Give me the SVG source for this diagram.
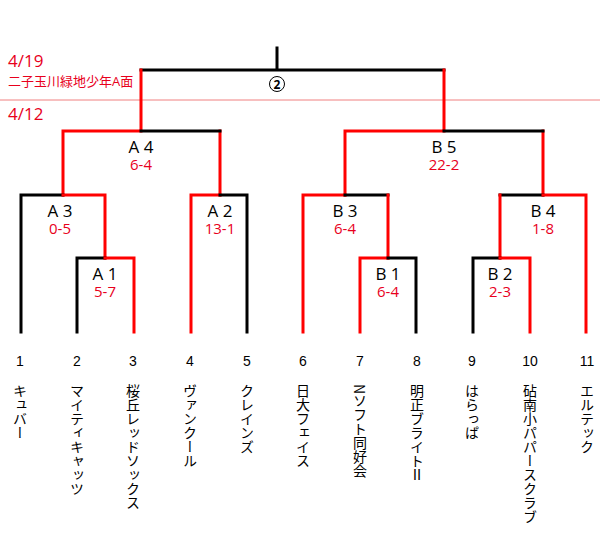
<svg xmlns="http://www.w3.org/2000/svg" width="600" height="547" viewBox="0 0 600 547">
<style>
.b{stroke:#000;stroke-width:3;fill:none;stroke-linecap:square}
.r{stroke:#f00;stroke-width:3;fill:none;stroke-linecap:square}
text{font-family:"Open Sans","Noto Sans CJK JP",sans-serif}
.lb{font-size:17px;fill:#000;text-anchor:middle}
.sc{font-size:15px;fill:#e8001c;text-anchor:middle}
.n{font-size:14px;fill:#000;text-anchor:middle;font-family:"Liberation Sans",sans-serif}
.t{font-size:14px;fill:#000;writing-mode:vertical-rl;font-family:"Noto Sans CJK JP",sans-serif}
</style>
<rect width="600" height="547" fill="#fff"/>
<line x1="0" y1="100" x2="600" y2="100" stroke="#f08080" stroke-width="1"/>
<text x="8" y="67" font-size="17" fill="#e8001c" font-family="Open Sans, sans-serif">4/19</text>
<text x="8" y="86" font-size="13" fill="#e8001c" font-family="Noto Sans CJK JP, sans-serif">二子玉川緑地少年A面</text>
<text x="8" y="120" font-size="17" fill="#e8001c" font-family="Open Sans, sans-serif">4/12</text>
<g id="connectors">
<path class="b" d="M277 48V70M141 70H444"/>
<path class="r" d="M141 70V131H63V195M220 131V195"/><path class="b" d="M141 131H220"/>
<path class="b" d="M21 332V195H63"/><path class="r" d="M63 195H105V258"/>
<path class="b" d="M77 332V258H105"/><path class="r" d="M105 258H134V332"/>
<path class="r" d="M191 332V195H220"/><path class="b" d="M220 195H247V332"/>
<path class="r" d="M444 70V131H345V195M543 131V195"/><path class="b" d="M444 131H543"/>
<path class="r" d="M303 332V195H345"/><path class="b" d="M345 195H388"/><path class="r" d="M388 195V258"/>
<path class="r" d="M360 332V258H388"/><path class="b" d="M388 258H416V332"/>
<path class="b" d="M500 195H543"/><path class="r" d="M543 195H586V332M500 195V258"/>
<path class="b" d="M473 332V258H500"/><path class="r" d="M500 258H530V332"/>
</g>
<g id="final"><circle cx="277" cy="84" r="7.5" fill="none" stroke="#000" stroke-width="1"/><text x="277" y="88.5" font-size="12" text-anchor="middle" font-family="Liberation Sans, sans-serif" font-weight="bold">2</text></g>
<g id="A4"><text class="lb" x="141" y="153">A 4</text><text class="sc" x="141" y="170">6-4</text></g>
<g id="A3"><text class="lb" x="60" y="217">A 3</text><text class="sc" x="60" y="234">0-5</text></g>
<g id="A1"><text class="lb" x="105" y="280">A 1</text><text class="sc" x="105" y="297">5-7</text></g>
<g id="A2"><text class="lb" x="220" y="217">A 2</text><text class="sc" x="220" y="234">13-1</text></g>
<g id="B5"><text class="lb" x="444" y="153">B 5</text><text class="sc" x="444" y="170">22-2</text></g>
<g id="B3"><text class="lb" x="345" y="217">B 3</text><text class="sc" x="345" y="234">6-4</text></g>
<g id="B1"><text class="lb" x="388" y="280">B 1</text><text class="sc" x="388" y="297">6-4</text></g>
<g id="B2"><text class="lb" x="500" y="280">B 2</text><text class="sc" x="500" y="297">2-3</text></g>
<g id="B4"><text class="lb" x="543" y="217">B 4</text><text class="sc" x="543" y="234">1-8</text></g>
<g id="teams">
<text class="n" x="20" y="366">1</text><text class="n" x="77" y="366">2</text><text class="n" x="133" y="366">3</text><text class="n" x="190" y="366">4</text><text class="n" x="247" y="366">5</text><text class="n" x="303" y="366">6</text><text class="n" x="360" y="366">7</text><text class="n" x="417" y="366">8</text><text class="n" x="472" y="366">9</text><text class="n" x="530" y="366">10</text><text class="n" x="587" y="366">11</text>
<text class="t" x="20" y="384">キュバー</text>
<text class="t" x="77" y="384">マイティキャッツ</text>
<text class="t" x="133" y="384">桜丘レッドソックス</text>
<text class="t" x="190" y="384">ヴァンクール</text>
<text class="t" x="247" y="384">クレインズ</text>
<text class="t" x="303" y="384">日大フェイス</text>
<text class="t" x="360" y="384">Nソフト同好会</text>
<text class="t" x="417" y="384">明正ブライトⅡ</text>
<text class="t" x="472" y="384">はらっぱ</text>
<text class="t" x="530" y="384">砧南小パパースクラブ</text>
<text class="t" x="587" y="384">エルテック</text>
</g>
</svg>
